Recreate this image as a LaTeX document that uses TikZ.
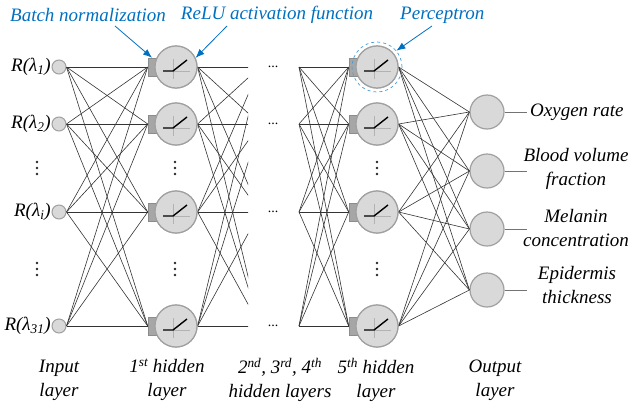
\documentclass[tikz,border=0pt]{standalone}
\usepackage{fontspec}
\setmainfont{Liberation Serif}[ItalicFont={Liberation Serif Italic}]
\newfontfamily\labelfont{Liberation Serif Italic}
\usetikzlibrary{arrows.meta}
\definecolor{nodefill}{HTML}{D9D9D9}
\definecolor{nodeline}{HTML}{A0A0A0}
\definecolor{bnfill}{HTML}{A6A6A6}
\definecolor{bnline}{HTML}{8C8C8C}
\definecolor{blueish}{HTML}{0070C0}
\tikzset{
  relu/.pic={
    \draw[black!30, line width=0.6pt] (-3,-8) -- (-3,12) (-3,4) -- (14,4);
    \draw[black, line width=1.4pt] (-13,4) -- (-3,4) -- (11,-7);
  },
  vdotsym/.pic={
    \fill[black!85] (0,-6) circle (1.3) (0,0) circle (1.3) (0,6) circle (1.3);
  }
}
\begin{document}
\begin{tikzpicture}[x=1pt,y=-1pt,
  lbl/.style={font=\labelfont\fontsize{19}{24}\selectfont, inner sep=0pt, align=center},
  incirc/.style={circle, draw=nodeline, fill=nodefill, line width=1pt, minimum size=14pt, inner sep=0pt},
  hcirc/.style={circle, draw=nodeline, fill=nodefill, line width=1.2pt, minimum size=42pt, inner sep=0pt},
  ocirc/.style={circle, draw=nodeline, fill=nodefill, line width=1.2pt, minimum size=34pt, inner sep=0pt},
  bnbox/.style={rectangle, draw=bnline, fill=bnfill, line width=0.6pt, minimum width=8pt, minimum height=18pt, inner sep=0pt},
  conn/.style={draw=black!80, line width=0.6pt},
  outconn/.style={draw=black!55, line width=0.8pt},
  callout/.style={draw=blueish, line width=0.8pt, -{Latex[length=9pt,width=7pt]}},
  ellip/.style={font=\fontsize{14}{14}\selectfont, inner sep=0pt}
]
\useasboundingbox (0,0) rectangle (631,402);

% layers
\foreach \y [count=\i] in {67,124,212,326} {
  \node[incirc] (in\i) at (59,\y) {};
  \node[bnbox] (ba\i) at (152,\y) {};
  \node[hcirc] (ha\i) at (176,\y) {};
  \coordinate (va\i) at (260,\y);
  \coordinate (vb\i) at (299,\y);
  \node[bnbox] (bb\i) at (353,\y) {};
  \node[hcirc] (hb\i) at (377,\y) {};
  \node[ellip] (el\i) at (273,\y) {...};
}
\foreach \y [count=\k] in {112,171,229,290} {
  \node[ocirc] (out\k) at (487,\y) {};
  \coordinate (oe\k) at (527,\y);
}

% connections
\foreach \i in {1,...,4} {
  \foreach \j in {1,...,4} {
    \draw[conn] (in\i.east) -- (ba\j.west);
    \draw[conn] (vb\i) -- (bb\j.west);
    \draw[conn] (hb\i.east) -- (out\j.west);
  }
}
\begin{scope}
  \clip (190,0) rectangle (248,402);
  \foreach \i in {1,...,4} {
    \foreach \j in {1,...,4} {
      \draw[conn] (ha\i.east) -- (va\j);
    }
  }
\end{scope}
\foreach \k in {1,...,4} { \draw[outconn] (out\k.east) -- (oe\k); }

% redraw nodes on top
\foreach \i in {1,...,4} {
  \node[bnbox] at (ba\i) {};
  \node[hcirc] at (ha\i) {};
  \pic at (ha\i) {relu};
  \node[bnbox] at (bb\i) {};
  \node[hcirc] at (hb\i) {};
  \pic at (hb\i) {relu};
}
\node[circle, draw=blueish!70, dashed, line width=0.7pt, minimum size=50pt, inner sep=0pt] (perc) at (hb1) {};

% vertical dots
\foreach \x in {37,175,377} {
  \pic at (\x,168) {vdotsym};
  \pic at (\x,269) {vdotsym};
}

% input labels
\node[lbl, anchor=east] (lin1) at (51,67) {R(λ\textsubscript{1})};
\node[lbl, anchor=east] (lin2) at (51,124) {R(λ\textsubscript{2})};
\node[lbl, anchor=east] (lin3) at (51,212) {R(λ\textsubscript{i})};
\node[lbl, anchor=east] (lin4) at (51,326) {R(λ\textsubscript{31})};

% output labels
\node[lbl, anchor=west] (lo1) at (530,112) {Oxygen rate};
\node[lbl] (lo2) at (576,169) {Blood volume\\fraction};
\node[lbl] (lo3) at (576,228) {Melanin\\concentration};
\node[lbl] (lo4) at (577,285) {Epidermis\\thickness};

% layer labels
\node[lbl] (ll1) at (59,380) {Input\\layer};
\node[lbl] (ll2) at (167,380) {1\textsuperscript{st} hidden\\layer};
\node[lbl] (ll3) at (280,380) {2\textsuperscript{nd}, 3\textsuperscript{rd}, 4\textsuperscript{th}\\hidden layers};
\node[lbl] (ll4) at (376,380) {5\textsuperscript{th} hidden\\layer};
\node[lbl] (ll5) at (495,380) {Output\\layer};

% callouts
\node[lbl, text=blueish] (tbn) at (88,15) {Batch normalization};
\node[lbl, text=blueish] (trelu) at (277,15) {ReLU activation function};
\node[lbl, text=blueish, anchor=west] (tperc) at (400,15) {Perceptron};
\coordinate (c1) at (115,26);
\coordinate (c2) at (227,26);
\coordinate (c3) at (432,26);
\draw[callout] (c1) -- (ba1.north);
\draw[callout] (c2) -- (ha1.25);
\draw[callout] (c3) -- (perc.40);
\end{tikzpicture}
\end{document}
